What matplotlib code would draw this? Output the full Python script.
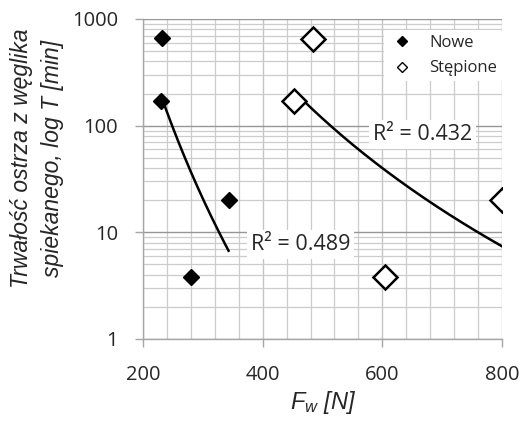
import numpy as np
import matplotlib
matplotlib.use("Agg")
import matplotlib.pyplot as plt
from matplotlib.ticker import MultipleLocator, LogLocator, FixedLocator, NullFormatter
from matplotlib.lines import Line2D

plt.rcParams['mathtext.fontset'] = 'custom'
plt.rcParams['mathtext.it'] = 'Liberation Sans:italic'
plt.rcParams['mathtext.rm'] = 'Liberation Sans'

# Data
nowe_x = [232, 230, 280, 343]
nowe_y = [660, 170, 3.8, 20]
step_x = [484, 452, 605, 800]
step_y = [650, 170, 3.8, 20]
series_labels = ["Nowe", "Stępione"]
r2_labels = ["R² = 0.489", "R² = 0.432"]
x_ticks = [200, 400, 600, 800]
y_ticks = [1, 10, 100, 1000]

TXT = '#262626'
TICKFONT = 'Open Sans'
LABFONT = 'Liberation Sans'

fig = plt.figure(figsize=(5.2, 4.26), dpi=100)
ax = fig.add_axes([143/520, 1-339/426, (502-143)/520, (339-19)/426])

ax.set_yscale('log')
ax.set_xlim(200, 800)
ax.set_ylim(1, 1000)

ax.xaxis.set_major_locator(FixedLocator(x_ticks))
ax.xaxis.set_minor_locator(MultipleLocator(40))
ax.yaxis.set_major_locator(FixedLocator(y_ticks))
ax.yaxis.set_minor_locator(LogLocator(base=10, subs=np.arange(2, 10)))
ax.yaxis.set_minor_formatter(NullFormatter())
ax.set_yticklabels([str(v) for v in y_ticks])
ax.set_xticklabels([str(v) for v in x_ticks])

ax.grid(which='minor', color='#cccccc', lw=0.9, zorder=0)
ax.xaxis.grid(which='major', color='#c4c4c4', lw=1.0, zorder=0)
ax.yaxis.grid(which='major', color='#969696', lw=1.0, zorder=0)
ax.set_axisbelow(True)

for s in ['top', 'right']:
    ax.spines[s].set_visible(False)
for s in ['left', 'bottom']:
    ax.spines[s].set_color('#a6a6a6')
    ax.spines[s].set_linewidth(1.0)

ax.tick_params(which='major', length=6, width=1.0, color='#a6a6a6',
               labelsize=14.5, labelcolor=TXT)
ax.tick_params(axis='y', which='major', pad=12)
ax.tick_params(axis='x', which='major', pad=13)
ax.tick_params(which='minor', length=0)
for lab in ax.get_xticklabels() + ax.get_yticklabels():
    lab.set_fontfamily(TICKFONT)

# Scatter
ax.plot(nowe_x, nowe_y, 'D', ms=8.5, color='black', ls='none', zorder=4, label=series_labels[0])
ax.plot(step_x, step_y, 'D', ms=12, mfc='white', mec='black', mew=1.8, ls='none',
        zorder=4, label=series_labels[1])

# Power trendlines fitted on data
def power_fit(xs, ys):
    lx, ly = np.log(xs), np.log(ys)
    b, a = np.polyfit(lx, ly, 1)
    xx = np.linspace(min(xs), max(xs), 200)
    return xx, np.exp(a) * xx ** b

for xs, ys in [(nowe_x, nowe_y), (step_x, step_y)]:
    xx, yy = power_fit(xs, ys)
    ax.plot(xx, yy, color='black', lw=1.8, zorder=3)

# R² labels
ax.text(463, 7.7, r2_labels[0], fontsize=15.5, family=TICKFONT, color=TXT,
        ha='center', va='center', zorder=5,
        bbox=dict(facecolor='white', edgecolor='none', pad=3))
ax.text(667, 82, r2_labels[1], fontsize=15.5, family=TICKFONT, color=TXT,
        ha='center', va='center', zorder=5,
        bbox=dict(facecolor='white', edgecolor='none', pad=3))

# Legend
handles = [Line2D([], [], marker='D', ms=5.5, color='black', ls='none'),
           Line2D([], [], marker='D', ms=5.5, mfc='white', mec='black', mew=1.0, ls='none')]
leg = ax.legend(handles, series_labels, loc='upper right', bbox_to_anchor=(1.0, 0.965),
                frameon=True, facecolor='white', edgecolor='none', framealpha=1,
                prop={'family': TICKFONT, 'size': 12}, handletextpad=0.8,
                borderaxespad=0, borderpad=0.3, labelspacing=0.55, handlelength=1.6)
for t in leg.get_texts():
    t.set_color(TXT)
leg.set_zorder(6)

# Axis labels
fig.text(37/520, 1-158/426, "Trwałość ostrza z węglika\nspiekanego, log T [min]",
         rotation=90, ha='center', va='center', fontsize=16.5, family=LABFONT,
         style='italic', color=TXT, linespacing=1.45, multialignment='center')
fig.text(323/520, 1-403/426, r"$F_w$ [N]", ha='center', va='center', fontsize=17,
         family=LABFONT, style='italic', color=TXT)

fig.savefig('out.png', dpi=100)
